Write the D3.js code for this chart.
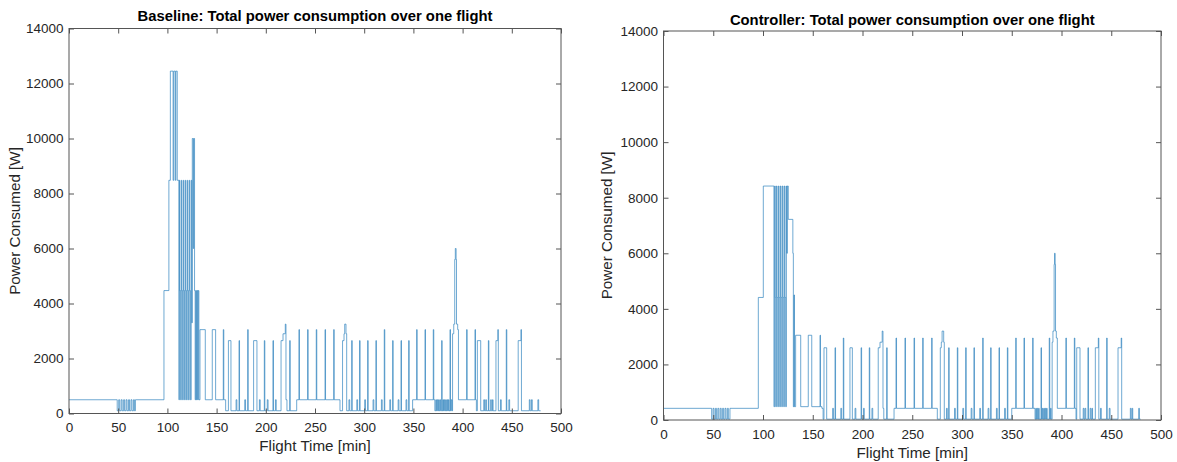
<!DOCTYPE html>
<html>
<head>
<meta charset="utf-8">
<script src="https://cdn.jsdelivr.net/npm/d3@7"></script>
<style>
  html, body { margin: 0; padding: 0; background: #fff; }
  svg { display: block; }
  text { font-family: "Liberation Sans", Arial, Helvetica, sans-serif; fill: #262626; }
</style>
</head>
<body>
<svg id="chart" width="1177" height="462"></svg>
<script>
// Axis ticks and labels
const timeTicks = [0, 50, 100, 150, 200, 250, 300, 350, 400, 450, 500];
const powerTicks = [0, 2000, 4000, 6000, 8000, 10000, 12000, 14000];
const panelTitles = [
  "Baseline: Total power consumption over one flight",
  "Controller: Total power consumption over one flight"
];
const xAxisLabel = "Flight Time [min]";
const yAxisLabel = "Power Consumed [W]";

// Step profile: [time (min), power (W)] — each power value holds until the next time
const baselineSteps = [
  [0,500],
  [49,100],[50.5,500],[51.5,100],[53,500],[54,100],[55.5,500],[56.5,100],[58,500],[59,100],[60.5,500],[61.5,100],[63,500],[64,100],[65.5,500],[66.5,100],[67.5,500],
  [96.5,4470],[101.5,8480],[103,12450],[105.8,8480],[106.5,12450],[108,8480],[108.6,12450],[110,8480],
  [111.7,500],
  [112.2,8480],[112.7,4470],[113.4,500],
  [114.2,8480],[114.7,4470],[115.4,500],
  [116.2,8480],[116.7,4470],[117.4,500],
  [118.2,8480],[118.7,4470],[119.4,500],
  [120.2,8480],[120.7,4470],[121.4,500],
  [122.2,8480],[122.7,4470],[123.4,500],
  [124.2,8480],[124.8,3300],[125.3,10000],[126.3,6000],[126.8,10000],[127.6,4470],[128.2,500],[128.8,4470],[129.5,500],[130.1,4470],[130.8,500],[131.3,4470],[132,500],
  [133.1,3050],[138.5,500],[145.6,3050],[149,500],[156.8,3050],[157.3,500],
  [159.2,100],[162,2650],[164.6,100],
  [169.8,500],[170.6,100],[172.8,2650],[173.3,100],
  [178.6,500],[179.4,100],[181.6,3050],[182.1,100],
  [187.6,2650],[191,100],
  [193.5,500],[194.3,100],[198.5,2650],[199,100],
  [201.5,500],[202.3,100],[207.3,2650],[207.8,100],
  [209.8,500],[210.6,100],
  [215.5,2650],[217.5,2900],[219.8,3250],[220.5,500],[221.5,100],[224.3,2650],[224.8,100],
  [231.4,500],[233.7,3050],[234.2,500],[242.5,3050],[243,500],[251.3,3050],[251.8,500],[260.2,3050],[260.7,500],[269,3050],[269.5,500],
  [275.4,100],[278,2650],[279.5,2900],[280.2,3250],[281.5,2900],[282.2,100],
  [284.5,500],[285.3,100],[287.3,2650],[287.8,100],
  [292.5,500],[293.3,100],[295.3,2650],[295.8,100],
  [300.5,500],[301.3,100],[303.5,2650],[304,100],
  [309,500],[309.8,100],[311.9,2650],[312.4,100],
  [317.5,500],[318.3,100],[320.4,3050],[320.9,100],
  [326,500],[326.8,100],[328.9,2650],[329.4,100],
  [334.5,500],[335.3,100],[337.4,2650],[337.9,100],
  [342.5,500],[343.3,100],[345.2,2650],[345.7,100],
  [349.2,500],[353.3,3050],[353.8,500],[361.8,3050],[362.3,500],[370.2,3050],[370.7,500],
  [371.8,100],[372.8,500],[373.4,100],[374.2,500],[374.8,100],[375.6,500],[376.2,100],[377,500],[377.6,100],
  [378.7,2650],[379.2,100],[380,500],[380.6,100],[381.4,500],[382,100],[382.8,500],[383.4,100],[384.2,500],[384.8,100],[385.6,500],[386.2,100],
  [387.2,3050],[387.7,100],[388.5,500],[389.2,100],
  [389.8,2900],[391,3250],[392,5600],[392.6,6000],[393.4,5600],[393.8,3250],[395,3050],[395.8,500],
  [404.1,3050],[404.6,500],[412.6,3050],[413.1,500],
  [414,100],[415,2650],[418.4,100],
  [421.5,500],[422.3,100],[423.5,500],[424.2,100],[426.2,2650],[426.7,100],
  [428.5,500],[429.2,100],[430.4,500],[431,100],
  [433.9,2650],[435.8,3050],[436.3,100],
  [438.5,500],[439.3,100],[444.4,3050],[444.9,100],
  [447,500],[447.8,100],
  [456.5,2650],[459.3,3050],[459.8,100],
  [467.8,500],[468.6,100],[470,500],[470.8,100],[476.5,500],[477.3,100],
  [479.3,100]
];

const controllerSteps = [
  [0,420],
  [48.4,30],[49.8,420],[50.8,30],[52.2,420],[53.2,30],[54.6,420],[55.6,30],[57,420],[58,30],[59.4,420],[60.4,30],[61.8,420],[62.8,30],[64.2,420],[65.2,30],[66.8,420],
  [95.3,4410],[100.3,8420],
  [111,480],[111.7,8420],[112.3,4410],[112.8,480],[113.5,8420],[114.1,4410],[114.8,480],[115.5,8420],[116.1,4410],[116.8,480],[117.5,8420],[118.1,4410],[118.8,480],[119.5,8420],[120.1,4410],[120.8,480],[121.5,8420],[122.1,4410],[122.8,480],[123.5,8420],[124,6000],[124.4,8420],
  [125.4,7220],[130,6000],[130.5,480],[131.2,4500],[131.6,480],
  [132.8,3050],[137.9,480],[145.5,3050],[149,480],[157.3,3050],[157.8,480],
  [159.2,420],[160.4,30],[161.3,2600],[164,30],
  [170,420],[170.8,30],[172.4,2600],[172.9,30],
  [178.2,420],[179,30],[180.7,2950],[181.2,30],
  [187.4,2600],[189.8,30],
  [192.5,420],[193.3,30],[198.6,2600],[199.1,30],
  [201,420],[201.8,30],[206.8,2600],[207.3,30],
  [209.5,420],[210.3,30],
  [215.8,2600],[217.6,2800],[219.8,3200],[220.6,420],[221.4,30],[224.3,2600],[224.8,30],
  [231.7,420],[233.7,2950],[234.2,420],[242.7,2950],[243.2,420],[251.8,2950],[252.3,420],[260.5,2950],[261,420],[269.5,2950],[270,420],
  [275.2,30],[278.2,2600],[279.2,2800],[280,3200],[281.6,2800],[282.2,30],
  [284.4,420],[285.2,30],[286.6,2600],[287.1,30],
  [292.5,420],[293.3,30],[295.3,2600],[295.8,30],
  [300.8,420],[301.6,30],[303.7,2600],[304.2,30],
  [309.2,420],[310,30],[312,2600],[312.5,30],
  [317.8,420],[318.6,30],[320.8,2950],[321.3,30],
  [326.2,420],[327,30],[328.8,2600],[329.3,30],
  [334.6,420],[335.4,30],[337.2,2600],[337.7,30],
  [342.8,420],[343.6,30],[345.6,2600],[346.1,30],
  [350,420],[354,2950],[354.5,420],[362.3,2950],[362.8,420],[371,2950],[371.5,420],
  [373.4,30],[374.2,420],[374.8,30],[375.6,420],[376.2,30],[377,420],[377.6,30],
  [379.4,2600],[379.9,30],[380.8,420],[381.4,30],[382.2,420],[382.8,30],[383.6,420],[384.2,30],[385,420],[385.6,30],
  [387.7,2950],[388.2,30],[389,420],[389.6,30],
  [390.6,2800],[391.4,3200],[392.6,5600],[393,6000],[393.6,5600],[394,3200],[394.8,2950],[395.8,420],
  [404.4,2950],[404.9,420],[412.9,2950],[413.4,420],
  [414.6,30],[415.3,2600],[418.6,30],
  [421.8,420],[422.6,30],[423.6,420],[424.4,30],[426.6,2600],[427.1,30],
  [428.8,420],[429.6,30],[430.6,420],[431.2,30],
  [434,2600],[437,2950],[437.5,30],
  [439.2,420],[440,30],[445.4,2950],[445.9,30],
  [448,420],[448.8,30],
  [456.8,2600],[460,2950],[460.5,30],
  [469.2,420],[470,30],[471,420],[471.6,30],[477.6,420],[478.3,30],
  [479.5,30]
];

// Panel frames (pixel boxes of each axes area)
const panels = [
  { title: panelTitles[0], steps: baselineSteps, x0: 69,    x1: 561,  y0: 413.5, y1: 28.5, titleY: 20.5, xLabelY: 450.5, yLabelX: 20 },
  { title: panelTitles[1], steps: controllerSteps, x0: 663.5, x1: 1161, y0: 420,   y1: 31,   titleY: 24.5, xLabelY: 458, yLabelX: 612 }
];

const svg = d3.select("#chart");
const lineColor = "#2a80bd";
const axisColor = "#555";
const tickFormat = d3.format("d");

panels.forEach(p => {
  const x = d3.scaleLinear().domain([0, 500]).range([p.x0, p.x1]);
  const y = d3.scaleLinear().domain([0, 14000]).range([p.y0, p.y1]);
  const g = svg.append("g");

  // Power trace
  const line = d3.line()
    .x(d => x(d[0]))
    .y(d => y(d[1]))
    .curve(d3.curveStepAfter);
  g.append("path")
    .datum(p.steps)
    .attr("fill", "none")
    .attr("stroke", lineColor)
    .attr("stroke-width", 0.8)
    .attr("stroke-opacity", 0.85)
    .attr("d", line);

  // Axes with inward ticks on all four sides
  const styleAxis = sel => {
    sel.select(".domain").remove();
    sel.selectAll(".tick line").attr("stroke", axisColor);
    sel.selectAll(".tick text").attr("fill", "#262626").style("font-size", "13.5px")
      .style("font-family", '"Liberation Sans", Arial, Helvetica, sans-serif');
  };
  g.append("g").attr("transform", `translate(0,${p.y0})`)
    .call(d3.axisBottom(x).tickValues(timeTicks).tickFormat(tickFormat).tickSizeInner(-5).tickSizeOuter(0).tickPadding(9))
    .call(styleAxis);
  g.append("g").attr("transform", `translate(0,${p.y1})`)
    .call(d3.axisTop(x).tickValues(timeTicks).tickSizeInner(-5).tickSizeOuter(0).tickFormat(""))
    .call(styleAxis);
  g.append("g").attr("transform", `translate(${p.x0},0)`)
    .call(d3.axisLeft(y).tickValues(powerTicks).tickFormat(tickFormat).tickSizeInner(-5).tickSizeOuter(0).tickPadding(5.5))
    .call(styleAxis);
  g.append("g").attr("transform", `translate(${p.x1},0)`)
    .call(d3.axisRight(y).tickValues(powerTicks).tickSizeInner(-5).tickSizeOuter(0).tickFormat(""))
    .call(styleAxis);

  // Axes box
  g.append("rect")
    .attr("x", p.x0).attr("y", p.y1)
    .attr("width", p.x1 - p.x0).attr("height", p.y0 - p.y1)
    .attr("fill", "none").attr("stroke", axisColor).attr("stroke-width", 1);

  // Title and axis labels
  g.append("text")
    .attr("x", (p.x0 + p.x1) / 2).attr("y", p.titleY)
    .attr("text-anchor", "middle")
    .style("font-size", "14.8px").style("font-weight", "bold").style("fill", "#000")
    .text(p.title);
  g.append("text")
    .attr("x", (p.x0 + p.x1) / 2).attr("y", p.xLabelY)
    .attr("text-anchor", "middle")
    .style("font-size", "15.2px")
    .text(xAxisLabel);
  g.append("text")
    .attr("transform", `translate(${p.yLabelX},${(p.y0 + p.y1) / 2}) rotate(-90)`)
    .attr("text-anchor", "middle")
    .style("font-size", "15.2px")
    .text(yAxisLabel);
});
</script>
</body>
</html>
